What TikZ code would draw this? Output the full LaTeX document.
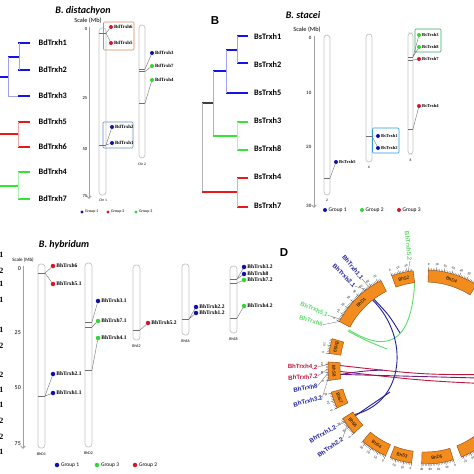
\documentclass[tikz,border=0pt]{standalone}
\usepackage{fontspec}
\setmainfont{Carlito}
\newfontfamily\genefont{Liberation Serif}
\newfontfamily\circosfont{Liberation Sans}
\usetikzlibrary{arrows.meta, positioning}

\definecolor{trxblue}{HTML}{1414E6}
\definecolor{trxred}{HTML}{E61A1A}
\definecolor{trxgreen}{HTML}{33E633}
\definecolor{dotblue}{HTML}{1010B0}
\definecolor{dotred}{HTML}{D8142C}
\definecolor{dotgreen}{HTML}{2ED82E}
\definecolor{chromgray}{HTML}{C4C4C4}
\definecolor{markgray}{HTML}{707070}
\definecolor{boxorange}{HTML}{D98A5A}
\definecolor{boxblue}{HTML}{6A8FC8}
\definecolor{boxteal}{HTML}{3AA86A}
\definecolor{boxsky}{HTML}{2F9BDB}
\definecolor{ideofill}{HTML}{F28C1E}
\definecolor{ideoedge}{HTML}{8A4A10}
\definecolor{linkblue}{HTML}{1E1E9C}
\definecolor{linkgreen}{HTML}{5CDC6A}
\definecolor{linkred}{HTML}{C0183C}
\definecolor{linkpurple}{HTML}{6A1E8C}

\tikzset{
  treebar/.style={line width=2.8pt},
  treelink/.style={line width=0.5pt},
  treelab/.style={font=\bfseries\fontsize{8.3}{8.3}\selectfont, anchor=west, inner sep=0pt},
  paneltitle/.style={font=\bfseries\itshape\fontsize{10}{10}\selectfont, inner sep=0pt},
  panellab/.style={font=\circosfont\bfseries\fontsize{11.5}{11.5}\selectfont, inner sep=0pt},
  scaletxt/.style={font=\fontsize{#1}{#1}\selectfont, inner sep=0pt},
  scaletxt/.default=6.3,
  scaleaxis/.style={draw=gray!75, line width=0.9pt, -{Straight Barb[length=2.5pt,width=4.5pt]}},
  ticklab/.style={font=\fontsize{#1}{#1}\selectfont, anchor=east, inner sep=0pt},
  ticklab/.default=5,
  chrom/.style={draw=chromgray, line width=0.7pt, rounded corners=3pt},
  chromlab/.style={font=\fontsize{#1}{#1}\selectfont, inner sep=0pt},
  chromlab/.default=3.6,
  markline/.style={draw=markgray, line width=0.4pt},
  genedot/.style={circle, inner sep=0pt, minimum size=#1},
  genedot/.default=4pt,
  genelab/.style={font=\genefont\bfseries\fontsize{#1}{#1}\selectfont, inner sep=0pt},
  genelab/.default=4.8,
  grpbox/.style={line width=0.6pt, rounded corners=1pt},
  legdot/.style={circle, inner sep=0pt, minimum size=#1},
  legdot/.default=3.2pt,
  leglab/.style={font=\fontsize{#1}{#1}\selectfont, inner sep=0pt},
  leglab/.default=4,
  cutdigit/.style={font=\genefont\bfseries\fontsize{8}{8}\selectfont, anchor=east, inner sep=0pt},
  ideo/.style={fill=ideofill, draw=ideoedge, line width=0.4pt},
  ideolab/.style={font=\circosfont\fontsize{4.5}{4.5}\selectfont, inner sep=0pt},
  dnum/.style={font=\circosfont\fontsize{2.9}{2.9}\selectfont, inner sep=0pt},
  dtick/.style={draw=black!70, line width=0.25pt},
  dlab/.style={font=\circosfont\bfseries\fontsize{6.1}{6.1}\selectfont, inner sep=0pt, anchor=east},
  dconn/.style={draw=gray!80!black, line width=0.3pt},
  dlink/.style={line width=0.9pt},
}

\begin{document}
\begin{tikzpicture}[x=1pt, y=-1pt]
  \useasboundingbox (0,0) rectangle (474,474);
  \fill[white] (0,0) rectangle (474,474);

  % ===== A: B. distachyon =====
  \node[paneltitle] (ttlA) at (83,11) {B. distachyon};

  % tree
  \foreach \xa/\xb/\y in {18/30/43, 18/30/70, 8/19/57, 18/30/96, 0/8/77}
    \draw[treebar, trxblue] (\xa,\y) -- (\xb,\y);
  \draw[treelink, trxblue!40] (19,43) -- (19,70);
  \draw[treelink, trxblue!40] (8,57) -- (8,96) -- (18,96);
  \foreach \xa/\xb/\y in {18/30/122, 18/30/147, 0/18/134}
    \draw[treebar, trxred] (\xa,\y) -- (\xb,\y);
  \draw[treelink, trxred!40] (18,122) -- (18,147);
  \foreach \xa/\xb/\y in {18/30/172, 18/30/199, 0/18/186}
    \draw[treebar, trxgreen] (\xa,\y) -- (\xb,\y);
  \draw[treelink, trxgreen!40] (18,172) -- (18,199);
  \foreach \y/\n in {43/1, 70/2, 96/3, 122/5, 147/6, 172/4, 199/7}
    \node[treelab] (leafA\n) at (38.5,\y) {BdTrxh\n};

  % scale
  \node[scaletxt] (scA) at (88,21) {Scale (Mb)};
  \draw[scaleaxis] (89,27) -- (89,199);
  \foreach \y/\v in {29/0, 98/25, 149/50, 196/75}
    \node[ticklab=4.6] (tkA\v) at (87.5,\y) {\v};

  % chromosomes
  \draw[chrom] (99,28) rectangle (106,195);
  \draw[chrom] (139,25) rectangle (145,158);
  \node[chromlab] (chrA1) at (103,200) {Chr 1};
  \node[chromlab] (chrA2) at (142,164) {Chr 2};
  \draw[grpbox, boxorange] (103.5,22) rectangle (134,50);
  \draw[grpbox, boxblue] (103,122) rectangle (133,148);

  % genes
  \foreach \n/\x/\y/\c in {6/111/27/dotred, 5/111/43/dotred, 2/112/127/dotblue, 1/112/143/dotblue,
                           3/152/53/dotblue, 7/152/66/dotgreen, 4/152/80/dotgreen} {
    \node[genedot, fill=\c] (gA\n) at (\x,\y) {};
    \node[genelab, right=0.8pt of gA\n] (labA\n) {BdTrxh\n};
  }
  \coordinate (mA1) at (106,33);
  \coordinate (mA2) at (106,145);
  \coordinate (mA3) at (145,69);
  \coordinate (mA4) at (145,71.5);
  \coordinate (mA5) at (145,103);
  \draw[markline] (99,33) -- (mA1) (99,145) -- (mA2) (139,69) -- (mA3) (139,71.5) -- (mA4) (139,103) -- (mA5);
  \draw[markline] (mA1) -- (gA6) (mA1) -- (gA5) (mA2) -- (gA2) (mA2) -- (gA1)
                  (mA3) -- (gA3) (mA4) -- (gA7) (mA5) -- (gA4);

  % legend
  \foreach \x/\c/\g in {82/dotblue/1, 108/dotred/2, 136/dotgreen/3} {
    \node[legdot, fill=\c] (lgA\g) at (\x,212) {};
    \node[leglab, right=1.2pt of lgA\g] (lgtA\g) {Group \g};
  }

  % ===== B: B. stacei =====
  \node[panellab] (pB) at (215,21) {B};
  \node[paneltitle] (ttlB) at (303,15) {B. stacei};

  % tree
  \foreach \xa/\xb/\y in {237/248/36, 237/248/63, 226/237/50, 226/248/93, 213/226/71}
    \draw[treebar, trxblue] (\xa,\y) -- (\xb,\y);
  \draw[treelink, trxblue!40] (237,36) -- (237,63);
  \draw[treelink, trxblue!40] (226,50) -- (226,93);
  \draw[treebar, black!75] (202,103) -- (213,103);
  \draw[treelink, gray!60] (213,71) -- (213,136);
  \draw[treelink, gray!60] (202,103) -- (202,192);
  \foreach \xa/\xb/\y in {237/248/122, 237/248/150, 213/237/136}
    \draw[treebar, trxgreen] (\xa,\y) -- (\xb,\y);
  \draw[treelink, trxgreen!40] (237,122) -- (237,150);
  \foreach \xa/\xb/\y in {237/248/178, 237/248/207, 202/237/192}
    \draw[treebar, trxred] (\xa,\y) -- (\xb,\y);
  \draw[treelink, trxred!40] (237,178) -- (237,207);
  \foreach \y/\n in {37/1, 65/2, 93/5, 121/3, 149/8, 177/4, 206/7}
    \node[treelab] (leafB\n) at (254,\y) {BsTrxh\n};

  % scale
  \node[scaletxt] (scB) at (307,30) {Scale (Mb)};
  \draw[scaleaxis] (314,36) -- (314,208);
  \foreach \y/\v in {38/0, 93/10, 147/20, 206/30}
    \node[ticklab] (tkB\v) at (311.5,\y) {\v};

  % chromosomes
  \draw[chrom] (324,35) rectangle (330,195);
  \draw[chrom] (366,34) rectangle (372,162);
  \draw[chrom] (408,33) rectangle (413,154);
  \node[chromlab] (chrB2) at (327,200) {2};
  \node[chromlab] (chrB6) at (369,167) {6};
  \node[chromlab] (chrB8) at (410.5,160) {8};
  \draw[grpbox, boxsky] (372.5,128) rectangle (399,153);
  \draw[grpbox, boxteal] (415,29) rectangle (441,52);

  % genes
  \foreach \n/\x/\y/\c in {5/336/162/dotblue, 1/378/136/dotblue, 2/378/148/dotblue,
                           3/419/35/dotgreen, 8/419/47/dotgreen, 7/419/59/dotred, 4/419/106/dotred} {
    \node[genedot, fill=\c] (gB\n) at (\x,\y) {};
    \node[genelab=4.5, right=0.8pt of gB\n] (labB\n) {BsTrxh\n};
  }
  \coordinate (mB1) at (330,178);
  \coordinate (mB2) at (372,136);
  \coordinate (mB3) at (413,57);
  \coordinate (mB4) at (413,60);
  \coordinate (mB5) at (413,129);
  \draw[markline] (324,178) -- (mB1) (366,136) -- (mB2) (408,57) -- (mB3) (408,60) -- (mB4) (408,129) -- (mB5);
  \draw[markline] (mB1) -- (gB5) (mB2) -- (gB1) (mB2) -- (gB2)
                  (mB3) -- (gB3) (mB3) -- (gB8) (mB4) -- (gB7) (mB5) -- (gB4);

  % legend
  \foreach \x/\c/\g in {325/dotblue/1, 362/dotgreen/2, 399/dotred/3} {
    \node[legdot=4pt, fill=\c] (lgB\g) at (\x,210) {};
    \node[leglab=5.5, right=1.2pt of lgB\g] (lgtB\g) {Group \g};
  }

  % ===== C: B. hybridum =====
  \foreach \y/\d in {255/1, 271/2, 284/1, 300/1, 330/1, 346/2, 375/2, 390/1, 405/1, 421/2, 437/2, 452/1}
    \node[cutdigit] (cut\y) at (3.5,\y) {\d};
  \node[paneltitle] (ttlC) at (64,245) {B. hybridum};

  % scale
  \node[scaletxt=5] (scC) at (23,260) {Scale (Mb)};
  \draw[scaleaxis] (23,266) -- (23,449);
  \foreach \y/\v in {269/0, 333/25, 388/50, 444/75}
    \node[ticklab=6] (tkC\v) at (21,\y) {\v};

  % chromosomes
  \foreach \xa/\xb/\ya/\yb/\lab in {38/45/264/448/BhD1, 85/92/263/447/BhD2, 133/140/265/340/BhS2,
                                    182/189/264/335/BhS6, 230/237/266/333/BhS8} {
    \draw[chrom] (\xa,\ya) rectangle (\xb,\yb);
    \node[chromlab=4] (chr\lab) at ({(\xa+\xb)/2},\yb+6) {\lab};
  }

  % genes
  \foreach \n/\lab/\x/\y/\c in {6/6/53/266/dotred, 51/5.1/53/284/dotred, 21/2.1/53/374/dotblue, 11/1.1/53/393/dotblue,
                                31/3.1/98/301/dotblue, 71/7.1/98/321/dotgreen, 41/4.1/98/338/dotgreen,
                                52/5.2/148/323/dotred, 22/2.2/196/307/dotblue, 12/1.2/196/313/dotblue,
                                32/3.2/244/267/dotblue, 8/8/244/274/dotblue, 72/7.2/244/280/dotgreen, 42/4.2/244/306/dotgreen} {
    \node[genedot=4.5pt, fill=\c] (gC\n) at (\x,\y) {};
    \node[genelab=5.5, right=0.8pt of gC\n] (labC\n) {BhTrxh\lab};
  }
  \coordinate (mC1) at (45,273);
  \coordinate (mC2) at (45,396);
  \coordinate (mC3) at (92,322);
  \coordinate (mC4) at (92,327);
  \coordinate (mC5) at (92,370);
  \coordinate (mC6) at (140,330);
  \coordinate (mC7) at (189,319);
  \coordinate (mC8) at (237,279);
  \coordinate (mC9) at (237,283);
  \coordinate (mC10) at (237,318);
  \draw[markline] (38,273) -- (mC1) (38,396) -- (mC2) (85,322) -- (mC3) (85,327) -- (mC4) (85,370) -- (mC5)
                  (133,330) -- (mC6) (182,319) -- (mC7) (230,279) -- (mC8) (230,283) -- (mC9) (230,318) -- (mC10);
  \draw[markline] (mC1) -- (gC6) (mC1) -- (gC51) (mC2) -- (gC21) (mC2) -- (gC11)
                  (mC3) -- (gC31) (mC4) -- (gC71) (mC5) -- (gC41) (mC6) -- (gC52)
                  (mC7) -- (gC22) (mC7) -- (gC12) (mC8) -- (gC32) (mC8) -- (gC8)
                  (mC9) -- (gC72) (mC10) -- (gC42);

  % legend
  \foreach \x/\c/\g in {57/dotblue/1, 97/dotgreen/3, 135/dotred/2} {
    \node[legdot=4.5pt, fill=\c] (lgC\g) at (\x,465) {};
    \node[leglab=5.5, right=1.5pt of lgC\g] (lgtC\g) {Group \g};
  }

  % ===== D: circos =====
  \node[panellab] (pD) at (284,253) {D};
  \begin{scope}[shift={(425,367)}, y=1pt]
    % links
    \draw[dlink, linkgreen] (97:85) .. controls (-14,15) and (-45,18) .. (154:85);
    \draw[dlink, linkgreen] (155:85) .. controls (-58,26) .. (-38,18);
    \draw[dlink, linkblue] (128:85) .. controls (-15,30) and (-20,-35) .. (214:85);
    \draw[dlink, linkblue] (127:85) .. controls (-36,52) .. (-25,34);
    \draw[dlink, linkblue] (215:85) .. controls (-52,-36) .. (-35,-25);
    \draw[dlink, linkred] (179:85) .. controls (0,-8) .. (-5:85);
    \draw[dlink, linkred] (183:85) .. controls (0,-14) .. (-12:85);
    \draw[dlink, linkpurple] (185:85) .. controls (0,-9) .. (-8:85);
    \draw[dlink, linkpurple] (185:85) .. controls (-62,-4) .. (-42,-3);

    % ideograms with rulers
    \foreach \a/\b/\lab in {58/88/BhD4, 97/110/BhS2, 117/152/BhD1, 163/172/BhS9, 177/188/BhS8,
                            195/205/BhS7, 212/223/BhS6, 230/246/BhS4, 249/262/BhS3, 268/287/BhD5, 292/326/{}} {
      \filldraw[ideo] (\a:85) arc[start angle=\a, end angle=\b, radius=85]
        -- (\b:97) arc[start angle=\b, end angle=\a, radius=97] -- cycle;
      \pgfmathsetmacro{\amid}{(\a+\b)/2}
      \pgfmathsetmacro{\arot}{\amid<160 ? \amid-90 : \amid+90}
      \node[ideolab, rotate=\arot] (ch\lab) at (\amid:91) {\lab};
      \pgfmathtruncatemacro{\nmin}{(\b-\a)/0.94}
      \foreach \k in {0,...,\nmin}
        \draw[dtick] ({\b-0.94*\k}:97) -- ({\b-0.94*\k}:99);
      \pgfmathtruncatemacro{\nmaj}{(\b-\a)/4.7}
      \foreach \m in {0,...,\nmaj} {
        \pgfmathsetmacro{\tang}{\b-4.7*\m}
        \pgfmathtruncatemacro{\mb}{10*\m}
        \draw[dtick] (\tang:97) -- (\tang:100.5);
        \node[dnum, rotate=\arot+\tang-\amid] (nm\lab\m) at (\tang:103) {\mb};
      }
    }

    % gene labels
    \foreach \n/\lab/\c/\ga/\la/\lr/\rot in {11/1.1/linkblue/125/125.5/108/-51, 21/2.1/linkblue/127/131/107/-45,
        51/5.1/linkgreen/150.5/152/110/-24, 6/6/linkgreen/152/157.5/110.5/-17,
        42/4.2/linkred/178.5/180/107.5/-2, 72/7.2/linkred/181/184.8/107.5/4,
        8/8/linkblue/183.5/190/109/10, 32/3.2/linkblue/186/196.4/107/15,
        12/1.2/linkblue/214.5/213.8/107.5/29, 22/2.2/linkblue/216.5/221/109.3/35,
        52/5.2/linkgreen/100/98.1/107/-84} {
      \coordinate (gD\n) at (\ga:97);
      \node[dlab, text=\c, rotate=\rot] (labD\n) at (\la:\lr) {BhTrxh\lab};
      \draw[dconn] (gD\n) -- (labD\n.east);
    }
  \end{scope}
\end{tikzpicture}
\end{document}
